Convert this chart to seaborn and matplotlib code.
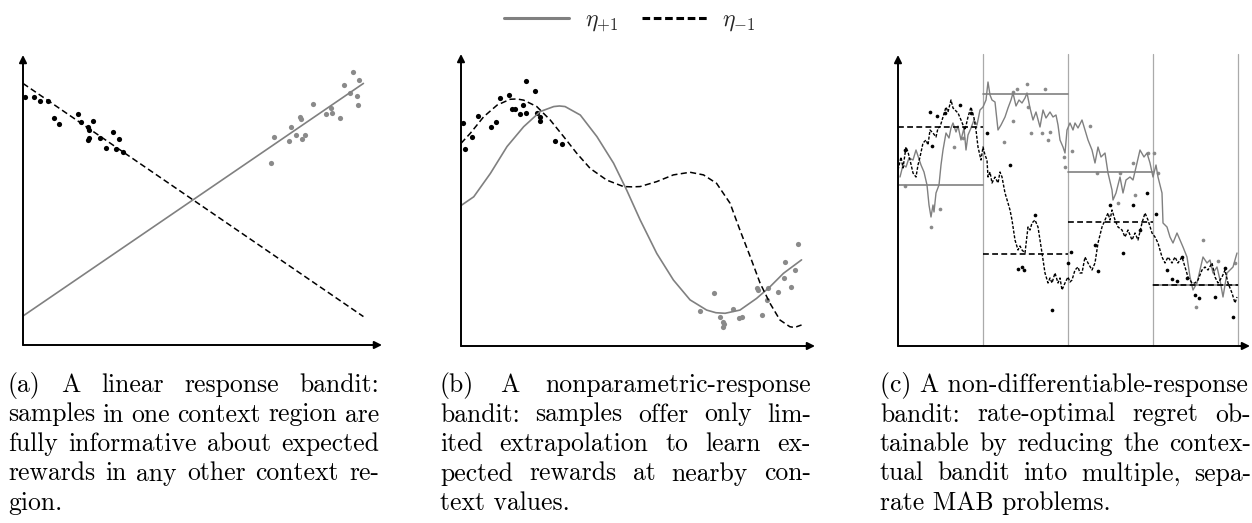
import numpy as np
import pandas as pd
import matplotlib
matplotlib.use("Agg")
import matplotlib.pyplot as plt
from matplotlib.lines import Line2D
from matplotlib.transforms import IdentityTransform
import seaborn as sns

# ---------------- data ----------------
# panel (a): linear response
a_line_x = [0.0, 95.3]
a_plus_y = [10.0, 90.2]
a_minus_y = [90.2, 9.8]
a_black_x = [0.5, 3.0, 4.7, 7.0, 8.8, 10.2, 15.5, 16.1, 19.5, 18.1, 18.4, 18.1, 18.6, 21.6, 25.1, 26.8, 23.3, 25.9, 27.9]
a_black_y = [85.6, 85.6, 84.1, 84.3, 78.3, 76.1, 79.7, 77.0, 77.1, 75.1, 74.1, 70.7, 71.5, 71.4, 73.3, 70.9, 68.0, 67.6, 66.4]
a_gray_x = [69.3, 70.2, 75.1, 74.6, 76.3, 77.5, 77.7, 78.1, 78.9, 81.2, 84.8, 86.2, 86.5, 88.8, 90.0, 91.6, 92.3, 93.5, 93.9, 94.2]
a_gray_y = [62.6, 71.6, 75.3, 70.3, 72.3, 78.7, 77.8, 71.1, 72.4, 83.2, 79.5, 81.6, 80.1, 78.3, 89.8, 87.0, 94.0, 86.0, 82.6, 91.3]

# panel (b): nonparametric response
b_plus_x = [0, 3.6, 8.3, 13.0, 17.7, 22.4, 26.2, 27.8, 29.4, 33.7, 38.4, 43.1, 46.8, 50.6, 55.3, 60.0, 64.7, 69.4, 72.0, 74.6, 78.8, 83.5, 87.3, 91.1, 96.2]
b_plus_y = [48.1, 51.1, 59.1, 68.3, 75.1, 80.3, 82.0, 82.2, 82.0, 79.1, 71.7, 62.6, 53.4, 43.2, 31.7, 22.6, 15.8, 12.3, 11.4, 11.2, 12.3, 16.3, 20.3, 24.9, 29.5]
b_minus_x = [0, 2.6, 6.4, 10.2, 13.9, 15.8, 17.7, 21.4, 25.2, 29.0, 32.7, 36.5, 41.2, 45.9, 48.3, 50.6, 55.3, 60.0, 64.7, 68.5, 72.2, 76.0, 78.8, 81.7, 84.5, 87.3, 90.1, 92.9, 93.9, 94.8, 96.2]
b_minus_y = [69.4, 72.8, 78.5, 82.5, 84.5, 84.6, 84.2, 82.0, 77.4, 71.7, 66.0, 60.8, 56.8, 54.6, 54.5, 54.6, 56.3, 58.6, 59.5, 58.6, 55.7, 48.9, 39.7, 30.6, 21.5, 14.6, 8.9, 6.6, 6.4, 6.6, 7.2]
b_black_x = [0.6, 1.2, 3.1, 4.7, 8.5, 10.0, 11.1, 13.5, 14.4, 15.3, 16.7, 17.4, 18.3, 18.4, 20.8, 21.6, 22.2, 22.4, 26.6, 28.6]
b_black_y = [76.3, 67.5, 71.7, 78.8, 75.0, 76.7, 84.9, 86.1, 81.2, 81.1, 79.3, 82.4, 79.9, 90.6, 87.3, 79.7, 77.1, 78.5, 70.2, 69.1]
b_gray_x = [67.5, 71.5, 73.2, 73.9, 74.3, 74.1, 76.8, 78.6, 79.3, 83.5, 84.0, 84.9, 86.5, 86.6, 89.5, 91.5, 91.3, 93.1, 94.4, 95.1]
b_gray_y = [12.1, 18.3, 9.9, 8.3, 7.5, 6.4, 12.6, 9.5, 9.8, 19.7, 19.2, 10.7, 15.8, 20.0, 18.6, 28.8, 23.3, 20.3, 26.0, 34.8]

# panel (c): non-differentiable response, piecewise-constant reduction
c_edges = [0, 85, 170, 255, 340]
c_step_plus = [161, 252, 174, 61]
c_step_minus = [219, 92, 124, 61]
c_plus_x = [2, 5, 8, 11, 15, 18, 20, 23, 26, 29, 31, 33, 35, 36, 38, 41, 43, 45, 48, 51,
            53, 55, 58, 60, 63, 66, 68, 70, 73, 76, 79, 82, 85, 88, 90, 92, 94, 97, 100, 103,
            107, 110, 113, 115, 118, 121, 124, 127, 129, 132, 135, 138, 142, 145, 148, 152, 155, 158, 160, 162,
            165, 167, 169, 172, 175, 177, 180, 184, 187, 190, 194, 197, 200, 203, 207, 210, 214, 215, 218, 222,
            225, 228, 232, 235, 239, 242, 246, 249, 252, 255, 258, 260, 264, 265, 269, 272, 275, 279, 282, 285,
            289, 292, 295, 299, 302, 305, 309, 312, 315, 319, 322, 325, 329, 332, 335, 339]
c_plus_y = [169, 181, 179, 188, 186, 196, 190, 181, 174, 161, 141, 129, 141, 134, 153, 161, 181, 196, 213, 208,
            218, 223, 214, 220, 206, 218, 196, 211, 218, 226, 221, 236, 239, 246, 264, 251, 246, 244, 216, 221,
            229, 238, 246, 253, 240, 246, 243, 248, 253, 238, 226, 234, 219, 236, 228, 234, 229, 231, 221, 206,
            199, 193, 216, 223, 216, 223, 218, 226, 216, 206, 196, 183, 199, 189, 193, 173, 156, 146, 153, 169,
            153, 166, 169, 166, 183, 196, 189, 193, 183, 169, 181, 169, 153, 123, 119, 109, 103, 113, 106, 99,
            89, 69, 56, 63, 76, 89, 83, 86, 73, 79, 66, 49, 73, 76, 79, 93]
c_minus_x = [0, 3, 5, 8, 10, 12, 15, 18, 20, 22, 25, 28, 30, 32, 35, 38, 40, 42, 45, 48,
             50, 53, 55, 57, 60, 63, 65, 67, 70, 73, 76, 78, 80, 83, 85, 87, 89, 90, 92, 94,
             97, 100, 102, 104, 107, 110, 112, 114, 117, 120, 122, 124, 127, 130, 132, 134, 137, 140, 144, 147,
             150, 152, 154, 157, 160, 162, 164, 167, 170, 172, 174, 177, 180, 182, 184, 187, 190, 194, 197, 200,
             204, 207, 210, 212, 214, 217, 220, 224, 227, 230, 234, 237, 240, 244, 247, 250, 254, 257, 260, 264,
             267, 270, 274, 277, 280, 284, 287, 290, 294, 297, 300, 304, 307, 310, 314, 317, 320, 324, 327, 330,
             334, 337, 339]
c_minus_y = [176, 189, 178, 199, 194, 186, 173, 169, 181, 189, 203, 206, 201, 216, 213, 209, 218, 219, 229, 239,
             234, 246, 238, 236, 233, 226, 221, 216, 229, 239, 228, 216, 199, 186, 199, 191, 186, 169, 174, 163,
             169, 163, 174, 169, 153, 143, 136, 126, 106, 96, 100, 96, 93, 119, 116, 123, 126, 119, 93, 73,
             63, 68, 63, 73, 63, 68, 56, 63, 69, 64, 66, 76, 79, 73, 73, 89, 83, 76, 83, 103,
             119, 126, 133, 126, 136, 126, 119, 116, 109, 116, 106, 113, 106, 123, 133, 126, 113, 109, 103, 89,
             83, 89, 83, 89, 83, 89, 79, 69, 63, 63, 66, 76, 79, 76, 83, 69, 63, 69, 76, 63,
             53, 43, 49]
c_black_x = [32, 39, 47, 34, 73, 89, 62, 112, 137, 120, 124, 126, 154, 173, 170, 197, 200, 212, 225, 235,
             242, 249, 258, 269, 274, 279, 284, 289, 297, 301, 317, 327, 335, 7]
c_black_y = [234, 230, 233, 200, 233, 213, 241, 181, 131, 77, 79, 76, 36, 94, 83, 101, 75, 141, 93, 141,
             116, 153, 132, 76, 67, 65, 89, 68, 51, 48, 49, 78, 29, 196]
c_gray_x = [56, 33, 42, 7, 65, 115, 119, 129, 147, 115, 106, 133, 144, 150, 152, 166, 167, 130, 174, 192,
            199, 222, 235, 237, 220, 256, 250, 260, 305, 298, 320, 337]
c_gray_y = [199, 119, 137, 160, 208, 254, 257, 262, 257, 225, 204, 213, 213, 206, 214, 189, 179, 239, 195, 220,
            173, 173, 183, 151, 143, 193, 193, 173, 106, 39, 85, 83]

legend_labels = [r"$\eta_{+1}$", r"$\eta_{-1}$"]
captions = [
    [("(a) A linear response bandit:", True),
     ("samples in one context region are", True),
     ("fully informative about expected", True),
     ("rewards in any other context re-", True),
     ("gion.", False)],
    [("(b) A nonparametric-response", True),
     ("bandit: samples offer only lim-", True),
     ("ited extrapolation to learn ex-", True),
     ("pected rewards at nearby con-", True),
     ("text values.", False)],
    [("(c) A non-differentiable-response", False),
     ("bandit: rate-optimal regret ob-", True),
     ("tainable by reducing the contex-", True),
     ("tual bandit into multiple, sepa-", True),
     ("rate MAB problems.", False)],
]

# ---------------- style ----------------
sns.set_theme(style="white")
plt.rcParams["mathtext.fontset"] = "cm"
plt.rcParams["font.family"] = ["DejaVu Sans"]

GRAY = "#808080"
GRAY_DOT = "#8a8a8a"
W, H = 1252, 523
fig = plt.figure(figsize=(W / 100, H / 100), dpi=100)


def make_ax(left, right, bottom, top):
    ax = fig.add_axes([left / W, 1 - bottom / H, (right - left) / W, (bottom - top) / H])
    ax.set_axis_off()
    for xy in [(1, 0), (0, 1)]:
        ax.annotate("", xy=xy, xytext=(0, 0), xycoords="axes fraction", textcoords="axes fraction",
                    arrowprops=dict(arrowstyle="-|>", lw=1.4, color="black", mutation_scale=11,
                                    shrinkA=0, shrinkB=0), zorder=5)
    return ax


# panel (a)
ax = make_ax(23, 382, 345, 55)
ax.set_xlim(0, 100.5)
ax.set_ylim(0, 100)
sns.lineplot(x=a_line_x, y=a_plus_y, color=GRAY, lw=1.2, ax=ax, estimator=None, sort=False)
sns.lineplot(x=a_line_x, y=a_minus_y, color="black", lw=1.1, ax=ax, estimator=None, sort=False,
             linestyle=(0, (4, 2.2)))
sns.scatterplot(x=a_black_x, y=a_black_y, color="black", s=14, linewidth=0, ax=ax)
sns.scatterplot(x=a_gray_x, y=a_gray_y, color=GRAY_DOT, s=14, linewidth=0, ax=ax)

# panel (b)
ax = make_ax(461, 815, 346, 54)
ax.set_xlim(0, 100)
ax.set_ylim(0, 100)
sns.lineplot(x=b_plus_x, y=b_plus_y, color=GRAY, lw=1.2, ax=ax, estimator=None, sort=False)
sns.lineplot(x=b_minus_x, y=b_minus_y, color="black", lw=1.1, ax=ax, estimator=None, sort=False,
             linestyle=(0, (4, 2.2)))
sns.scatterplot(x=b_black_x, y=b_black_y, color="black", s=14, linewidth=0, ax=ax)
sns.scatterplot(x=b_gray_x, y=b_gray_y, color=GRAY_DOT, s=14, linewidth=0, ax=ax)

# panel (c)
ax = make_ax(898, 1250, 346, 55)
ax.set_xlim(0, 352)
ax.set_ylim(0, 291)
for e in c_edges[1:]:
    ax.axvline(e, ymin=0, ymax=1.005, color="#aaaaaa", lw=0.9, clip_on=False, zorder=1)
sns.lineplot(x=c_plus_x, y=c_plus_y, color=GRAY, lw=1.0, ax=ax, estimator=None, sort=False)
sns.lineplot(x=c_minus_x, y=c_minus_y, color="black", lw=1.0, ax=ax, estimator=None, sort=False,
             linestyle=(0, (2.2, 1.2)))
sns.scatterplot(x=c_black_x, y=c_black_y, color="black", s=7, linewidth=0, ax=ax)
sns.scatterplot(x=c_gray_x, y=c_gray_y, color=GRAY_DOT, s=7, linewidth=0, ax=ax)
for i in range(len(c_step_plus)):
    seg = [c_edges[i], c_edges[i + 1]]
    sns.lineplot(x=seg, y=[c_step_plus[i]] * 2, color=GRAY, lw=1.2, ax=ax, estimator=None, sort=False)
    sns.lineplot(x=seg, y=[c_step_minus[i]] * 2, color="black", lw=1.2, ax=ax, estimator=None, sort=False,
                 linestyle=(0, (3.5, 2)))

# legend
handles = [Line2D([], [], color=GRAY, lw=2.2),
           Line2D([], [], color="black", lw=2.2, linestyle=(0, (2.5, 1.2)))]
fig.legend(handles, legend_labels, loc="center", bbox_to_anchor=(630 / W, 1 - 20 / H), ncol=2,
           frameon=False, fontsize=17, handlelength=2.75, handletextpad=0.65, columnspacing=1.0)

# captions (justified text)
CAP_FS = 18.5
CAP_X = [(8, 379), (440, 811), (880, 1251)]
CAP_Y0 = 392
CAP_DY = 29.5
ident = IdentityTransform()
renderer = fig.canvas.get_renderer()
for (x0, x1), lines in zip(CAP_X, captions):
    for i, (text, just) in enumerate(lines):
        yb = H - (CAP_Y0 + i * CAP_DY)
        kw = dict(fontsize=CAP_FS, family="cmr10", va="baseline", ha="left", transform=ident, color="black")
        if not just:
            fig.text(x0, yb, text, **kw)
            continue
        words = text.split()
        arts = [fig.text(0, yb, w, **kw) for w in words]
        widths = [a.get_window_extent(renderer).width for a in arts]
        gap = (x1 - x0 - sum(widths)) / (len(words) - 1)
        x = x0
        for a, w in zip(arts, widths):
            a.set_x(x)
            x += w + gap

fig.savefig("out.png", dpi=100)
